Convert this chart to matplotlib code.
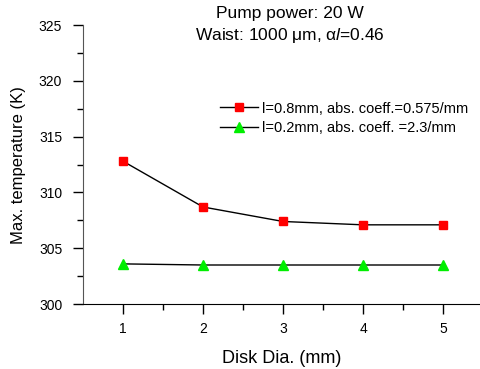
import matplotlib.pyplot as plt

plt.rcParams['font.family'] = ['Liberation Sans', 'DejaVu Sans']
plt.rcParams['mathtext.fontset'] = 'custom'
plt.rcParams['mathtext.rm'] = 'Liberation Sans'
plt.rcParams['mathtext.it'] = 'Liberation Sans:italic'

# data
disk_dia = [1, 2, 3, 4, 5]
temp_08mm = [312.8, 308.7, 307.4, 307.1, 307.1]
temp_02mm = [303.6, 303.5, 303.5, 303.5, 303.5]

fig = plt.figure(figsize=(4.8, 3.69), dpi=100)
ax = fig.add_axes([0.173, 0.176, 0.827, 0.756])

ax.plot(disk_dia, temp_08mm, color='black', lw=1, marker='s', ms=6,
        mfc='red', mec='red', label='l=0.8mm, abs. coeff.=0.575/mm')
ax.plot(disk_dia, temp_02mm, color='black', lw=1, marker='^', ms=7,
        mfc='#00ee00', mec='#00ee00', label='l=0.2mm, abs. coeff. =2.3/mm')

ax.set_xlim(0.5, 5.4625)
ax.set_ylim(300, 325)
ax.set_xticks([1, 2, 3, 4, 5])
ax.set_xticks([1.5, 2.5, 3.5, 4.5], minor=True)
ax.set_yticks([300, 305, 310, 315, 320, 325])
ax.set_yticks([302.5, 307.5, 312.5, 317.5, 322.5], minor=True)
ax.tick_params(direction='out', labelsize=10, length=7, width=1, pad=6)
ax.tick_params(which='minor', direction='out', length=4, width=1)
ax.tick_params(axis='y', pad=8)

ax.spines['top'].set_visible(False)
ax.spines['right'].set_visible(False)
ax.spines['left'].set_color('#555555')

ax.set_xlabel('Disk Dia. (mm)', fontsize=13, labelpad=10)
ax.set_ylabel('Max. temperature (K)', fontsize=12, labelpad=9)

fig.text(0.604, 0.963, 'Pump power: 20 W', ha='center', va='center', fontsize=12.5)
fig.text(0.604, 0.905, r'Waist: 1000 $\mathrm{\mu}$m, $\mathrm{\alpha}l$=0.46',
         ha='center', va='center', fontsize=12.5)

ax.legend(loc='upper right', bbox_to_anchor=(0.99, 0.752), frameon=False,
          fontsize=10.5, handlelength=2.6, handletextpad=0.3, labelspacing=0.35,
          borderpad=0)

plt.savefig('out.png', dpi=100)
